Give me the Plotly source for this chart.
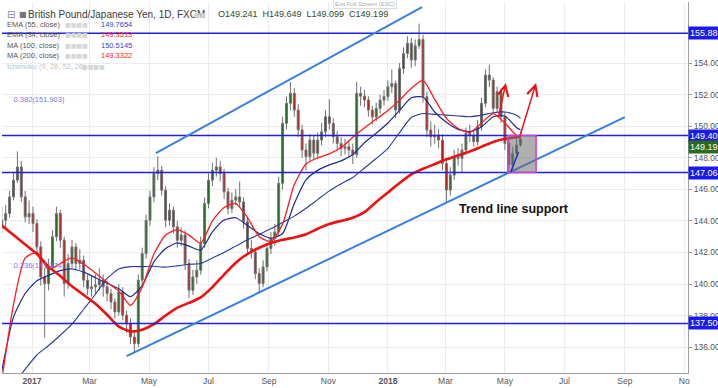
import pandas as pd
import plotly.graph_objects as go

# ---------------- data ----------------
first_open = 143.60
closes = [
    144.04, 144.47, 145.52, 146.58, 147.42, 145.52, 144.25, 144.47, 143.83, 142.35,
    140.45, 140.03, 141.08, 142.99, 144.47, 142.78, 140.03, 141.30, 142.35, 141.30,
    141.51, 140.24, 139.71, 139.82, 139.95, 140.24, 139.82, 139.39, 138.86, 138.23,
    139.50, 138.02, 137.49, 136.64, 136.22, 140.24, 141.93, 144.04, 145.52, 147.00,
    147.21, 145.94, 144.04, 144.68, 143.62, 142.77, 143.10, 141.30, 139.60, 140.45,
    140.87, 142.56, 145.10, 146.58, 147.21, 147.42, 147.00, 145.84, 144.78, 145.31,
    145.52, 145.20, 143.94, 142.25, 142.03, 140.66, 140.03, 141.08, 142.25, 142.90,
    143.30, 146.38, 150.18, 151.45, 152.08, 151.02, 149.76, 148.49, 148.07, 149.12,
    148.28, 149.12, 149.65, 150.60, 150.18, 149.33, 148.91, 148.59, 148.70, 148.49,
    148.20, 152.08, 151.90, 151.66, 151.02, 150.60, 151.13, 151.66, 151.87, 152.50,
    152.70, 151.02, 153.66, 154.61, 155.25, 154.19, 155.10, 155.50, 151.87, 149.76,
    149.33, 149.44, 149.12, 147.64, 145.95, 146.90, 148.07, 147.96, 148.49, 149.54,
    149.44, 149.02, 149.97, 151.45, 153.24, 152.92, 151.13, 152.18, 150.60, 148.91,
    147.54, 148.28, 148.81, 149.20]
highs = [
    144.9, 145.0, 145.9, 147.1, 148.4, 147.8, 145.9, 145.3, 144.9, 144.1,
    142.7, 141.0, 141.6, 143.4, 144.9, 144.7, 143.0, 141.9, 142.8, 142.6,
    142.2, 141.8, 140.6, 140.5, 140.6, 141.0, 140.6, 140.2, 139.7, 139.1,
    140.0, 139.8, 138.3, 137.8, 137.0, 140.6, 142.3, 144.4, 145.9, 147.4,
    148.1, 147.5, 146.2, 145.1, 144.9, 144.0, 143.6, 143.4, 141.6, 140.9,
    141.5, 143.0, 145.5, 147.0, 147.7, 148.0, 147.8, 147.3, 146.1, 145.8,
    146.0, 146.5, 145.5, 144.2, 142.8, 142.3, 141.0, 141.5, 142.6, 143.3,
    143.8, 146.8, 150.6, 151.9, 152.8, 152.4, 151.4, 150.1, 148.9, 149.5,
    149.4, 149.6, 150.2, 151.0, 151.7, 150.5, 149.7, 149.3, 149.2, 149.1,
    148.9, 152.8, 152.5, 152.3, 151.9, 151.3, 151.5, 152.0, 152.3, 152.9,
    153.6, 152.9, 154.0, 155.0, 155.7, 155.6, 155.5, 156.5, 155.8, 152.2,
    150.3, 150.1, 149.8, 149.5, 147.9, 147.4, 148.5, 148.6, 148.9, 149.9,
    150.1, 149.7, 150.4, 151.8, 153.6, 153.9, 153.1, 152.5, 152.4, 150.9,
    149.2, 148.7, 149.2, 149.65]
lows = [
    143.2, 143.5, 144.2, 145.3, 146.4, 145.2, 143.9, 143.8, 143.3, 141.9,
    139.9, 136.6, 139.6, 140.8, 142.7, 142.3, 139.2, 139.7, 141.0, 140.9,
    140.9, 139.8, 139.3, 139.2, 139.4, 139.6, 139.2, 138.9, 138.4, 137.8,
    138.0, 137.7, 136.9, 136.2, 135.6, 136.0, 139.9, 141.6, 143.7, 145.2,
    146.6, 145.6, 143.6, 143.7, 143.2, 142.3, 142.4, 140.9, 139.1, 139.3,
    140.0, 140.6, 142.3, 144.8, 146.2, 146.8, 146.5, 145.4, 144.4, 144.5,
    145.0, 144.9, 143.5, 141.9, 141.6, 140.3, 139.4, 139.8, 140.8, 141.9,
    142.4, 143.0, 146.0, 149.8, 151.0, 150.6, 149.3, 148.0, 147.2, 147.7,
    147.9, 147.9, 148.8, 149.3, 149.8, 148.9, 148.5, 148.1, 148.2, 148.0,
    147.6, 148.0, 151.3, 151.2, 150.6, 150.1, 150.3, 150.8, 151.3, 151.6,
    152.1, 150.5, 150.8, 153.3, 154.3, 153.7, 153.8, 154.9, 151.5, 149.3,
    148.7, 148.9, 148.6, 147.2, 145.2, 145.6, 146.6, 147.5, 147.1, 148.2,
    149.0, 148.7, 148.8, 149.7, 151.2, 152.5, 150.8, 150.9, 150.2, 148.5,
    147.06, 147.2, 148.0, 148.7]
candle_dates = pd.date_range("2016-12-01", periods=len(closes), freq="4D")
opens = [first_open] + closes[:-1]

ma_dates = list(pd.date_range("2016-12-01", "2018-05-13", freq="12D")) + [pd.Timestamp("2018-05-17")]
ema34 = [133.9, 138.7, 141.65, 142.0, 140.9, 141.3, 141.65, 141.25, 140.7, 140.1,
         139.55, 138.65, 139.8, 141.9, 143.1, 143.45, 143.1, 142.6, 144.0, 144.85,
         145.1, 144.2, 143.0, 142.7, 143.8, 146.3, 147.6, 148.0, 148.25, 148.65,
         149.3, 149.9, 150.45, 151.0, 151.65, 152.4, 152.9, 151.7, 150.5, 149.85,
         149.6, 150.2, 150.8, 150.2, 149.4, 149.35]
ema55 = [134.5, 137.9, 139.4, 140.2, 140.55, 140.85, 140.95, 140.75, 140.4, 140.05,
         139.7, 139.2, 139.9, 141.4, 142.25, 142.6, 142.4, 142.15, 143.3, 144.05,
         144.2, 143.7, 143.2, 142.9, 143.2, 145.1, 146.6, 147.2, 147.55, 147.8,
         148.2, 148.95, 149.55, 150.2, 151.0, 151.8, 151.85, 150.9, 150.25, 149.8,
         149.65, 149.95, 150.6, 150.65, 149.9, 149.77]
ma100 = [132.5, 133.6, 134.6, 135.5, 136.1, 136.75, 137.45, 138.4, 139.35, 140.35,
         140.95, 141.1, 141.1, 141.12, 141.07, 141.15, 141.25, 141.3, 141.65, 142.0,
         142.4, 142.8, 143.15, 143.5, 143.9, 144.3, 144.8, 145.35, 145.9, 146.35,
         146.75, 147.35, 147.95, 148.6, 149.6, 150.55, 150.8, 150.75, 150.7, 150.65,
         150.6, 150.7, 150.85, 150.9, 150.7, 150.5]
ma200 = [143.7, 143.1, 142.5, 141.9, 141.1, 140.5, 139.85, 139.3, 138.75, 138.05,
         137.3, 137.0, 137.1, 137.45, 138.0, 138.5, 138.8, 139.15, 139.8, 140.6,
         141.35, 141.9, 142.3, 142.6, 142.8, 142.95, 143.15, 143.5, 143.8, 144.0,
         144.2, 144.55, 145.2, 145.8, 146.4, 146.95, 147.3, 147.6, 147.9, 148.15,
         148.4, 148.7, 149.0, 149.2, 149.3, 149.33]

levels = [155.886, 149.409, 147.064, 137.500]
last_close = 149.199
fib_labels = ["0.382(151.903)", "0.236(141.374)"]
fib_values = [151.903, 141.374]

upper_channel_x = ["2017-05-08", "2018-02-05"]
upper_channel_y = [148.3, 157.55]
lower_channel_x = ["2017-04-08", "2018-09-01"]
lower_channel_y = [135.43, 150.58]
arrow1_x = ["2018-04-24", "2018-05-02"]
arrow1_y = [150.5, 152.73]
arrow2_x = ["2018-05-16", "2018-06-02"]
arrow2_y = [149.3, 152.73]
box_x = ["2018-05-04", "2018-06-02"]
box_y = [147.064, 149.409]
inner_line_x = ["2018-05-07", "2018-05-15"]
inner_line_y = [147.09, 148.36]

month_ticks = ["2017-01-01", "2017-03-01", "2017-05-01", "2017-07-01", "2017-09-01", "2017-11-01",
               "2018-01-01", "2018-03-01", "2018-05-01", "2018-07-01", "2018-09-01", "2018-11-01"]
month_labels = ["<b>2017</b>", "Mar", "May", "Jul", "Sep", "Nov",
                "<b>2018</b>", "Mar", "May", "Jul", "Sep", "No"]
price_ticks = [136, 138, 140, 142, 144, 146, 148, 150, 152, 154]

title_text = "British Pound/Japanese Yen, 1D, FXCM"
ohlc_text = "O149.241  H149.649  L149.099  C149.199"
indicator_names = ["EMA (55, close)", "EMA (34, close)", "MA (100, close)", "MA (200, close)",
                   "Ichimoku (9, 26, 52, 26)"]
indicator_values = ["149.7654", "149.3513", "150.5145", "149.3322", ""]
indicator_colors = ["#3344cc", "#ff2222", "#3344cc", "#ff2222", "#bbbbbb"]

# ---------------- figure ----------------
W, H = 718, 388
ML, MR, MT, MB = 2, 30, 2, 15
PW, PH = W - ML - MR, H - MT - MB
FONT = "Liberation Sans, Arial, sans-serif"


def px(x):
    return (x - ML) / PW


def py(y):
    return (H - MB - y) / PH


fig = go.Figure()
fig.add_trace(go.Candlestick(
    x=candle_dates, open=opens, high=highs, low=lows, close=closes,
    increasing=dict(line=dict(color="#707070", width=1), fillcolor="#1f6b1f"),
    decreasing=dict(line=dict(color="#707070", width=1), fillcolor="#c81414"),
    whiskerwidth=0, hoverinfo="skip", showlegend=False))

for vals, color, w in [(ma100, "#2a3a9c", 1.1), (ema55, "#1c2a96", 1.2),
                       (ema34, "#ff1c1c", 1.3), (ma200, "#ee1111", 2.6)]:
    fig.add_trace(go.Scatter(x=ma_dates, y=vals, mode="lines",
                             line=dict(color=color, width=w, shape="spline", smoothing=0.6),
                             hoverinfo="skip", showlegend=False))

shapes = []
for lv in levels:
    shapes.append(dict(type="line", xref="paper", yref="y", x0=0, x1=1, y0=lv, y1=lv,
                       line=dict(color="#1f1fe0", width=1.6)))
for xs, ys in [(upper_channel_x, upper_channel_y), (lower_channel_x, lower_channel_y)]:
    shapes.append(dict(type="line", xref="x", yref="y", x0=xs[0], x1=xs[1], y0=ys[0], y1=ys[1],
                       line=dict(color="#3a7fe0", width=2)))
shapes.append(dict(type="rect", xref="x", yref="y", x0=box_x[0], x1=box_x[1], y0=box_y[0], y1=box_y[1],
                   fillcolor="rgba(110,110,110,0.55)", line=dict(color="#d040d0", width=1.5)))
shapes.append(dict(type="line", xref="x", yref="y", x0=inner_line_x[0], x1=inner_line_x[1],
                   y0=inner_line_y[0], y1=inner_line_y[1], line=dict(color="#2233bb", width=1.5)))

ann = []
for xs, ys in [(arrow1_x, arrow1_y), (arrow2_x, arrow2_y)]:
    ann.append(dict(x=xs[1], y=ys[1], ax=xs[0], ay=ys[0], xref="x", yref="y", axref="x", ayref="y",
                    showarrow=True, arrowhead=5, arrowsize=1.4, arrowwidth=1.5, arrowcolor="#ee1111",
                    text=""))
# price boxes on the right axis
for lv in levels:
    ann.append(dict(x=1, xref="paper", y=lv, yref="y", xanchor="left", yanchor="middle",
                    text=f"{lv:.3f}", showarrow=False, bgcolor="#1a1aee",
                    font=dict(family=FONT, size=9, color="white"), borderpad=1))
ann.append(dict(x=1, xref="paper", y=last_close, yref="y", yshift=-8, xanchor="left", yanchor="middle",
                text=f"{last_close:.3f}", showarrow=False, bgcolor="#2a6a1e",
                font=dict(family=FONT, size=9, color="white"), borderpad=1))
# fibonacci labels
for t, v in zip(fib_labels, fib_values):
    ann.append(dict(x=px(7), xref="paper", y=v, yref="y", yshift=-3, xanchor="left", yanchor="middle",
                    text="¨ " + t, showarrow=False, font=dict(family=FONT, size=7.5, color="#7878f0")))
# header
ann.append(dict(x=px(5), y=py(14), xref="paper", yref="paper", xanchor="left", yanchor="middle",
                text="⊟", showarrow=False, font=dict(family="DejaVu Sans", size=10, color="#888")))
ann.append(dict(x=px(17), y=py(14), xref="paper", yref="paper", xanchor="left", yanchor="middle",
                text="■", showarrow=False, font=dict(family="DejaVu Sans", size=8, color="#777")))
ann.append(dict(x=px(26), y=py(14), xref="paper", yref="paper", xanchor="left", yanchor="middle",
                text=title_text, showarrow=False, font=dict(family=FONT, size=10, color="#3a3a3a")))
ann.append(dict(x=px(192), y=py(14), xref="paper", yref="paper", xanchor="left", yanchor="middle",
                text="■■", showarrow=False,
                font=dict(family="DejaVu Sans", size=6, color="#d0d0d0")))
ann.append(dict(x=px(216), y=py(14), xref="paper", yref="paper", xanchor="left", yanchor="middle",
                text=ohlc_text, showarrow=False, font=dict(family=FONT, size=9, color="#2f4a2f")))
ann.append(dict(x=px(333), y=py(4), xref="paper", yref="paper", xanchor="left", yanchor="middle",
                text="Exit Full Screen (ESC)", showarrow=False, bgcolor="white", bordercolor="#dddddd",
                borderwidth=1, borderpad=1, font=dict(family=FONT, size=6, color="#aaaaaa")))
row_y = [24, 34.5, 45, 55.5, 66.5]
for name, val, col, yy in zip(indicator_names, indicator_values, indicator_colors, row_y):
    ncol = "#c4c4c4" if val == "" else "#555555"
    ann.append(dict(x=px(5), y=py(yy), xref="paper", yref="paper", xanchor="left", yanchor="middle",
                    text=name, showarrow=False, font=dict(family=FONT, size=7.5, color=ncol)))
    icons_x = 80 if val == "" else 63
    ann.append(dict(x=px(icons_x), y=py(yy), xref="paper", yref="paper", xanchor="left", yanchor="middle",
                    text="■■■■", showarrow=False,
                    font=dict(family="DejaVu Sans", size=6, color="#d6d6d6")))
    if val:
        ann.append(dict(x=px(99), y=py(yy), xref="paper", yref="paper", xanchor="left", yanchor="middle",
                        text=val, showarrow=False, font=dict(family=FONT, size=7.5, color=col)))
ann.append(dict(x=px(457), y=py(209), xref="paper", yref="paper", xanchor="left", yanchor="middle",
                text="<b>Trend line support</b>", showarrow=False,
                font=dict(family=FONT, size=12.5, color="#111111")))

fig.update_layout(
    width=W, height=H, margin=dict(l=ML, r=MR, t=MT, b=MB),
    paper_bgcolor="white", plot_bgcolor="white",
    showlegend=False, shapes=shapes, annotations=ann,
    font=dict(family=FONT),
    xaxis=dict(type="date", range=["2016-12-01 05:00", "2018-11-04 19:00"],
               tickvals=month_ticks, ticktext=month_labels,
               showgrid=True, gridcolor="#ececec", gridwidth=1, zeroline=False,
               showline=True, linecolor="#a0a0a0", ticks="", automargin=False,
               tickfont=dict(family=FONT, size=8.5, color="#555555"),
               rangeslider=dict(visible=False)),
    yaxis=dict(side="right", range=[134.36, 157.87], tickvals=price_ticks,
               ticktext=[f"{v:.3f}" for v in price_ticks],
               showgrid=True, gridcolor="#ececec", gridwidth=1, zeroline=False,
               showline=True, linecolor="#a0a0a0", ticks="outside", ticklen=3, tickcolor="#999999",
               automargin=False, tickfont=dict(family=FONT, size=8.5, color="#555555")),
)

fig.write_html("out.html", config={"displayModeBar": False},
               post_script="document.body.style.margin='0';document.body.style.padding='0';")
